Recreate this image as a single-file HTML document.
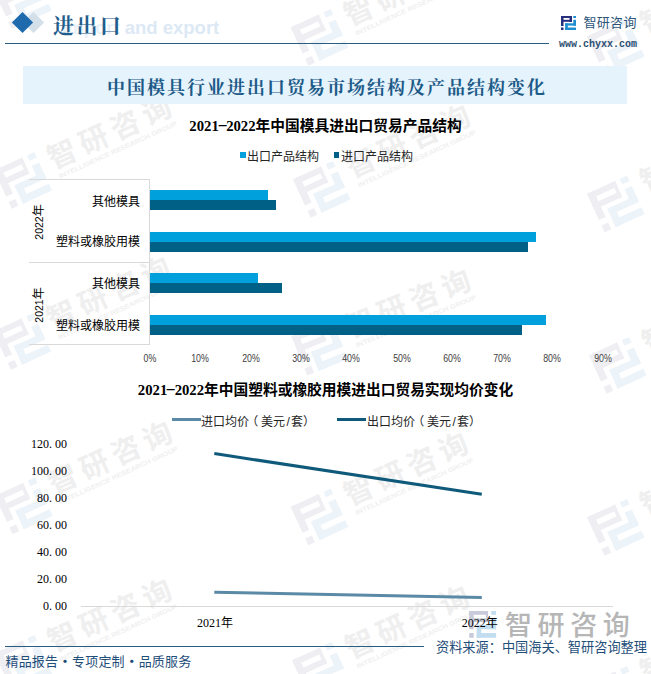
<!DOCTYPE html>
<html><head><meta charset="utf-8">
<style>
*{margin:0;padding:0;box-sizing:border-box}
html,body{width:651px;height:674px;overflow:hidden;background:#fff}
body{position:relative;font-family:"Liberation Sans","Noto Sans CJK SC",sans-serif;color:#000}
.a{position:absolute;white-space:nowrap;line-height:1}
.ct{font-family:"Liberation Serif","Noto Sans CJK SC",sans-serif;font-weight:700;font-size:14.72px;color:#000}
.hy{display:inline-block;width:7.36px;text-align:center;transform:scaleX(2.1);position:relative;top:-1.6px}
.lg{font-family:"Liberation Sans","Noto Sans CJK SC",sans-serif;font-size:12px;color:#262626}
.cl{font-family:"Liberation Sans","Noto Sans CJK SC",sans-serif;font-size:12px;color:#000}
.tk{font-family:"Liberation Sans",sans-serif;font-size:10.5px;color:#404040;transform:scaleX(0.84)}
.yd{font-size:10.5px}
.yl{font-family:"Liberation Serif","Noto Sans CJK SC",serif;font-size:12px;color:#000}
.dot{display:inline-block;width:6px}
.cw{font-weight:700}
.mc{display:inline-block;width:6px;text-align:center}
.sl{display:inline-block;width:6px;text-align:center}
.sep{display:inline-block;width:14px;text-align:center;font-family:'Noto Sans CJK SC',sans-serif;font-weight:700}
</style></head><body>
<svg class="a" style="left:0;top:0" width="651" height="674" font-family="Liberation Sans,Noto Sans CJK SC,sans-serif"><g transform="translate(62,-26) rotate(-24.5)"><g transform="translate(-68.6,-13.4) scale(2.933333333333333,3.0)" ><g fill="#efeff3"><rect x="0" y="0" width="10.5" height="2"/><rect x="9.3" y="0" width="1.2" height="5.8"/><rect x="0" y="3.8" width="10.5" height="2"/><rect x="0" y="0" width="2.5" height="9.6"/><rect x="0" y="11.6" width="2.5" height="2.5"/></g><g fill="#ecf3f9"><rect x="12.3" y="0" width="2.7" height="2"/><rect x="12.3" y="3.8" width="2.7" height="5.8"/><rect x="4.2" y="7.3" width="10.8" height="2.3"/><rect x="4.2" y="7.3" width="2.5" height="6.8"/><rect x="4.2" y="11.6" width="10.8" height="2.5"/></g></g><text x="0.0" y="10.2" text-anchor="middle" font-size="29" font-weight="700" fill="#efefef">智</text><text x="34.6" y="10.2" text-anchor="middle" font-size="29" font-weight="700" fill="#efefef">研</text><text x="69.2" y="10.2" text-anchor="middle" font-size="29" font-weight="700" fill="#efefef">咨</text><text x="103.8" y="10.2" text-anchor="middle" font-size="29" font-weight="700" fill="#efefef">询</text><text x="-12" y="21.5" font-size="6.5" fill="#efefef" textLength="129" lengthAdjust="spacingAndGlyphs" font-weight="bold">INTELLIGENCE RESEARCH GROUP</text></g><g transform="translate(62.2,154.1) rotate(-24.5)"><g transform="translate(-68.6,-13.4) scale(2.933333333333333,3.0)" ><g fill="#efeff3"><rect x="0" y="0" width="10.5" height="2"/><rect x="9.3" y="0" width="1.2" height="5.8"/><rect x="0" y="3.8" width="10.5" height="2"/><rect x="0" y="0" width="2.5" height="9.6"/><rect x="0" y="11.6" width="2.5" height="2.5"/></g><g fill="#ecf3f9"><rect x="12.3" y="0" width="2.7" height="2"/><rect x="12.3" y="3.8" width="2.7" height="5.8"/><rect x="4.2" y="7.3" width="10.8" height="2.3"/><rect x="4.2" y="7.3" width="2.5" height="6.8"/><rect x="4.2" y="11.6" width="10.8" height="2.5"/></g></g><text x="0.0" y="10.2" text-anchor="middle" font-size="29" font-weight="700" fill="#efefef">智</text><text x="34.6" y="10.2" text-anchor="middle" font-size="29" font-weight="700" fill="#efefef">研</text><text x="69.2" y="10.2" text-anchor="middle" font-size="29" font-weight="700" fill="#efefef">咨</text><text x="103.8" y="10.2" text-anchor="middle" font-size="29" font-weight="700" fill="#efefef">询</text><text x="-12" y="21.5" font-size="6.5" fill="#efefef" textLength="129" lengthAdjust="spacingAndGlyphs" font-weight="bold">INTELLIGENCE RESEARCH GROUP</text></g><g transform="translate(61.4,315) rotate(-24.5)"><g transform="translate(-68.6,-13.4) scale(2.933333333333333,3.0)" ><g fill="#efeff3"><rect x="0" y="0" width="10.5" height="2"/><rect x="9.3" y="0" width="1.2" height="5.8"/><rect x="0" y="3.8" width="10.5" height="2"/><rect x="0" y="0" width="2.5" height="9.6"/><rect x="0" y="11.6" width="2.5" height="2.5"/></g><g fill="#ecf3f9"><rect x="12.3" y="0" width="2.7" height="2"/><rect x="12.3" y="3.8" width="2.7" height="5.8"/><rect x="4.2" y="7.3" width="10.8" height="2.3"/><rect x="4.2" y="7.3" width="2.5" height="6.8"/><rect x="4.2" y="11.6" width="10.8" height="2.5"/></g></g><text x="0.0" y="10.2" text-anchor="middle" font-size="29" font-weight="700" fill="#efefef">智</text><text x="34.6" y="10.2" text-anchor="middle" font-size="29" font-weight="700" fill="#efefef">研</text><text x="69.2" y="10.2" text-anchor="middle" font-size="29" font-weight="700" fill="#efefef">咨</text><text x="103.8" y="10.2" text-anchor="middle" font-size="29" font-weight="700" fill="#efefef">询</text><text x="-12" y="21.5" font-size="6.5" fill="#efefef" textLength="129" lengthAdjust="spacingAndGlyphs" font-weight="bold">INTELLIGENCE RESEARCH GROUP</text></g><g transform="translate(63,479.5) rotate(-24.5)"><g transform="translate(-68.6,-13.4) scale(2.933333333333333,3.0)" ><g fill="#efeff3"><rect x="0" y="0" width="10.5" height="2"/><rect x="9.3" y="0" width="1.2" height="5.8"/><rect x="0" y="3.8" width="10.5" height="2"/><rect x="0" y="0" width="2.5" height="9.6"/><rect x="0" y="11.6" width="2.5" height="2.5"/></g><g fill="#ecf3f9"><rect x="12.3" y="0" width="2.7" height="2"/><rect x="12.3" y="3.8" width="2.7" height="5.8"/><rect x="4.2" y="7.3" width="10.8" height="2.3"/><rect x="4.2" y="7.3" width="2.5" height="6.8"/><rect x="4.2" y="11.6" width="10.8" height="2.5"/></g></g><text x="0.0" y="10.2" text-anchor="middle" font-size="29" font-weight="700" fill="#efefef">智</text><text x="34.6" y="10.2" text-anchor="middle" font-size="29" font-weight="700" fill="#efefef">研</text><text x="69.2" y="10.2" text-anchor="middle" font-size="29" font-weight="700" fill="#efefef">咨</text><text x="103.8" y="10.2" text-anchor="middle" font-size="29" font-weight="700" fill="#efefef">询</text><text x="-12" y="21.5" font-size="6.5" fill="#efefef" textLength="129" lengthAdjust="spacingAndGlyphs" font-weight="bold">INTELLIGENCE RESEARCH GROUP</text></g><g transform="translate(62.5,637) rotate(-24.5)"><g transform="translate(-68.6,-13.4) scale(2.933333333333333,3.0)" ><g fill="#efeff3"><rect x="0" y="0" width="10.5" height="2"/><rect x="9.3" y="0" width="1.2" height="5.8"/><rect x="0" y="3.8" width="10.5" height="2"/><rect x="0" y="0" width="2.5" height="9.6"/><rect x="0" y="11.6" width="2.5" height="2.5"/></g><g fill="#ecf3f9"><rect x="12.3" y="0" width="2.7" height="2"/><rect x="12.3" y="3.8" width="2.7" height="5.8"/><rect x="4.2" y="7.3" width="10.8" height="2.3"/><rect x="4.2" y="7.3" width="2.5" height="6.8"/><rect x="4.2" y="11.6" width="10.8" height="2.5"/></g></g><text x="0.0" y="10.2" text-anchor="middle" font-size="29" font-weight="700" fill="#efefef">智</text><text x="34.6" y="10.2" text-anchor="middle" font-size="29" font-weight="700" fill="#efefef">研</text><text x="69.2" y="10.2" text-anchor="middle" font-size="29" font-weight="700" fill="#efefef">咨</text><text x="103.8" y="10.2" text-anchor="middle" font-size="29" font-weight="700" fill="#efefef">询</text><text x="-12" y="21.5" font-size="6.5" fill="#efefef" textLength="129" lengthAdjust="spacingAndGlyphs" font-weight="bold">INTELLIGENCE RESEARCH GROUP</text></g><g transform="translate(358.7,11) rotate(-24.5)"><g transform="translate(-68.6,-13.4) scale(2.933333333333333,3.0)" ><g fill="#efeff3"><rect x="0" y="0" width="10.5" height="2"/><rect x="9.3" y="0" width="1.2" height="5.8"/><rect x="0" y="3.8" width="10.5" height="2"/><rect x="0" y="0" width="2.5" height="9.6"/><rect x="0" y="11.6" width="2.5" height="2.5"/></g><g fill="#ecf3f9"><rect x="12.3" y="0" width="2.7" height="2"/><rect x="12.3" y="3.8" width="2.7" height="5.8"/><rect x="4.2" y="7.3" width="10.8" height="2.3"/><rect x="4.2" y="7.3" width="2.5" height="6.8"/><rect x="4.2" y="11.6" width="10.8" height="2.5"/></g></g><text x="0.0" y="10.2" text-anchor="middle" font-size="29" font-weight="700" fill="#efefef">智</text><text x="34.6" y="10.2" text-anchor="middle" font-size="29" font-weight="700" fill="#efefef">研</text><text x="69.2" y="10.2" text-anchor="middle" font-size="29" font-weight="700" fill="#efefef">咨</text><text x="103.8" y="10.2" text-anchor="middle" font-size="29" font-weight="700" fill="#efefef">询</text><text x="-12" y="21.5" font-size="6.5" fill="#efefef" textLength="129" lengthAdjust="spacingAndGlyphs" font-weight="bold">INTELLIGENCE RESEARCH GROUP</text></g><g transform="translate(361,163) rotate(-24.5)"><g transform="translate(-68.6,-13.4) scale(2.933333333333333,3.0)" ><g fill="#efeff3"><rect x="0" y="0" width="10.5" height="2"/><rect x="9.3" y="0" width="1.2" height="5.8"/><rect x="0" y="3.8" width="10.5" height="2"/><rect x="0" y="0" width="2.5" height="9.6"/><rect x="0" y="11.6" width="2.5" height="2.5"/></g><g fill="#ecf3f9"><rect x="12.3" y="0" width="2.7" height="2"/><rect x="12.3" y="3.8" width="2.7" height="5.8"/><rect x="4.2" y="7.3" width="10.8" height="2.3"/><rect x="4.2" y="7.3" width="2.5" height="6.8"/><rect x="4.2" y="11.6" width="10.8" height="2.5"/></g></g><text x="0.0" y="10.2" text-anchor="middle" font-size="29" font-weight="700" fill="#efefef">智</text><text x="34.6" y="10.2" text-anchor="middle" font-size="29" font-weight="700" fill="#efefef">研</text><text x="69.2" y="10.2" text-anchor="middle" font-size="29" font-weight="700" fill="#efefef">咨</text><text x="103.8" y="10.2" text-anchor="middle" font-size="29" font-weight="700" fill="#efefef">询</text><text x="-12" y="21.5" font-size="6.5" fill="#efefef" textLength="129" lengthAdjust="spacingAndGlyphs" font-weight="bold">INTELLIGENCE RESEARCH GROUP</text></g><g transform="translate(360,323) rotate(-22)"><g transform="translate(-68.6,-13.4) scale(2.933333333333333,3.0)" ><g fill="#efeff3"><rect x="0" y="0" width="10.5" height="2"/><rect x="9.3" y="0" width="1.2" height="5.8"/><rect x="0" y="3.8" width="10.5" height="2"/><rect x="0" y="0" width="2.5" height="9.6"/><rect x="0" y="11.6" width="2.5" height="2.5"/></g><g fill="#ecf3f9"><rect x="12.3" y="0" width="2.7" height="2"/><rect x="12.3" y="3.8" width="2.7" height="5.8"/><rect x="4.2" y="7.3" width="10.8" height="2.3"/><rect x="4.2" y="7.3" width="2.5" height="6.8"/><rect x="4.2" y="11.6" width="10.8" height="2.5"/></g></g><text x="0.0" y="10.2" text-anchor="middle" font-size="29" font-weight="700" fill="#efefef">智</text><text x="34.6" y="10.2" text-anchor="middle" font-size="29" font-weight="700" fill="#efefef">研</text><text x="69.2" y="10.2" text-anchor="middle" font-size="29" font-weight="700" fill="#efefef">咨</text><text x="103.8" y="10.2" text-anchor="middle" font-size="29" font-weight="700" fill="#efefef">询</text><text x="-12" y="21.5" font-size="6.5" fill="#efefef" textLength="129" lengthAdjust="spacingAndGlyphs" font-weight="bold">INTELLIGENCE RESEARCH GROUP</text></g><g transform="translate(358.7,490.6) rotate(-24.5)"><g transform="translate(-68.6,-13.4) scale(2.933333333333333,3.0)" ><g fill="#efeff3"><rect x="0" y="0" width="10.5" height="2"/><rect x="9.3" y="0" width="1.2" height="5.8"/><rect x="0" y="3.8" width="10.5" height="2"/><rect x="0" y="0" width="2.5" height="9.6"/><rect x="0" y="11.6" width="2.5" height="2.5"/></g><g fill="#ecf3f9"><rect x="12.3" y="0" width="2.7" height="2"/><rect x="12.3" y="3.8" width="2.7" height="5.8"/><rect x="4.2" y="7.3" width="10.8" height="2.3"/><rect x="4.2" y="7.3" width="2.5" height="6.8"/><rect x="4.2" y="11.6" width="10.8" height="2.5"/></g></g><text x="0.0" y="10.2" text-anchor="middle" font-size="29" font-weight="700" fill="#efefef">智</text><text x="34.6" y="10.2" text-anchor="middle" font-size="29" font-weight="700" fill="#efefef">研</text><text x="69.2" y="10.2" text-anchor="middle" font-size="29" font-weight="700" fill="#efefef">咨</text><text x="103.8" y="10.2" text-anchor="middle" font-size="29" font-weight="700" fill="#efefef">询</text><text x="-12" y="21.5" font-size="6.5" fill="#efefef" textLength="129" lengthAdjust="spacingAndGlyphs" font-weight="bold">INTELLIGENCE RESEARCH GROUP</text></g><g transform="translate(360,644) rotate(-24.5)"><g transform="translate(-68.6,-13.4) scale(2.933333333333333,3.0)" ><g fill="#efeff3"><rect x="0" y="0" width="10.5" height="2"/><rect x="9.3" y="0" width="1.2" height="5.8"/><rect x="0" y="3.8" width="10.5" height="2"/><rect x="0" y="0" width="2.5" height="9.6"/><rect x="0" y="11.6" width="2.5" height="2.5"/></g><g fill="#ecf3f9"><rect x="12.3" y="0" width="2.7" height="2"/><rect x="12.3" y="3.8" width="2.7" height="5.8"/><rect x="4.2" y="7.3" width="10.8" height="2.3"/><rect x="4.2" y="7.3" width="2.5" height="6.8"/><rect x="4.2" y="11.6" width="10.8" height="2.5"/></g></g><text x="0.0" y="10.2" text-anchor="middle" font-size="29" font-weight="700" fill="#efefef">智</text><text x="34.6" y="10.2" text-anchor="middle" font-size="29" font-weight="700" fill="#efefef">研</text><text x="69.2" y="10.2" text-anchor="middle" font-size="29" font-weight="700" fill="#efefef">咨</text><text x="103.8" y="10.2" text-anchor="middle" font-size="29" font-weight="700" fill="#efefef">询</text><text x="-12" y="21.5" font-size="6.5" fill="#efefef" textLength="129" lengthAdjust="spacingAndGlyphs" font-weight="bold">INTELLIGENCE RESEARCH GROUP</text></g><g transform="translate(655,20) rotate(-24.5)"><g transform="translate(-68.6,-13.4) scale(2.933333333333333,3.0)" ><g fill="#efeff3"><rect x="0" y="0" width="10.5" height="2"/><rect x="9.3" y="0" width="1.2" height="5.8"/><rect x="0" y="3.8" width="10.5" height="2"/><rect x="0" y="0" width="2.5" height="9.6"/><rect x="0" y="11.6" width="2.5" height="2.5"/></g><g fill="#ecf3f9"><rect x="12.3" y="0" width="2.7" height="2"/><rect x="12.3" y="3.8" width="2.7" height="5.8"/><rect x="4.2" y="7.3" width="10.8" height="2.3"/><rect x="4.2" y="7.3" width="2.5" height="6.8"/><rect x="4.2" y="11.6" width="10.8" height="2.5"/></g></g><text x="0.0" y="10.2" text-anchor="middle" font-size="29" font-weight="700" fill="#efefef">智</text><text x="34.6" y="10.2" text-anchor="middle" font-size="29" font-weight="700" fill="#efefef">研</text><text x="69.2" y="10.2" text-anchor="middle" font-size="29" font-weight="700" fill="#efefef">咨</text><text x="103.8" y="10.2" text-anchor="middle" font-size="29" font-weight="700" fill="#efefef">询</text><text x="-12" y="21.5" font-size="6.5" fill="#efefef" textLength="129" lengthAdjust="spacingAndGlyphs" font-weight="bold">INTELLIGENCE RESEARCH GROUP</text></g><g transform="translate(655,177.6) rotate(-24.5)"><g transform="translate(-68.6,-13.4) scale(2.933333333333333,3.0)" ><g fill="#efeff3"><rect x="0" y="0" width="10.5" height="2"/><rect x="9.3" y="0" width="1.2" height="5.8"/><rect x="0" y="3.8" width="10.5" height="2"/><rect x="0" y="0" width="2.5" height="9.6"/><rect x="0" y="11.6" width="2.5" height="2.5"/></g><g fill="#ecf3f9"><rect x="12.3" y="0" width="2.7" height="2"/><rect x="12.3" y="3.8" width="2.7" height="5.8"/><rect x="4.2" y="7.3" width="10.8" height="2.3"/><rect x="4.2" y="7.3" width="2.5" height="6.8"/><rect x="4.2" y="11.6" width="10.8" height="2.5"/></g></g><text x="0.0" y="10.2" text-anchor="middle" font-size="29" font-weight="700" fill="#efefef">智</text><text x="34.6" y="10.2" text-anchor="middle" font-size="29" font-weight="700" fill="#efefef">研</text><text x="69.2" y="10.2" text-anchor="middle" font-size="29" font-weight="700" fill="#efefef">咨</text><text x="103.8" y="10.2" text-anchor="middle" font-size="29" font-weight="700" fill="#efefef">询</text><text x="-12" y="21.5" font-size="6.5" fill="#efefef" textLength="129" lengthAdjust="spacingAndGlyphs" font-weight="bold">INTELLIGENCE RESEARCH GROUP</text></g><g transform="translate(657,339) rotate(-24.5)"><g transform="translate(-68.6,-13.4) scale(2.933333333333333,3.0)" ><g fill="#efeff3"><rect x="0" y="0" width="10.5" height="2"/><rect x="9.3" y="0" width="1.2" height="5.8"/><rect x="0" y="3.8" width="10.5" height="2"/><rect x="0" y="0" width="2.5" height="9.6"/><rect x="0" y="11.6" width="2.5" height="2.5"/></g><g fill="#ecf3f9"><rect x="12.3" y="0" width="2.7" height="2"/><rect x="12.3" y="3.8" width="2.7" height="5.8"/><rect x="4.2" y="7.3" width="10.8" height="2.3"/><rect x="4.2" y="7.3" width="2.5" height="6.8"/><rect x="4.2" y="11.6" width="10.8" height="2.5"/></g></g><text x="0.0" y="10.2" text-anchor="middle" font-size="29" font-weight="700" fill="#efefef">智</text><text x="34.6" y="10.2" text-anchor="middle" font-size="29" font-weight="700" fill="#efefef">研</text><text x="69.2" y="10.2" text-anchor="middle" font-size="29" font-weight="700" fill="#efefef">咨</text><text x="103.8" y="10.2" text-anchor="middle" font-size="29" font-weight="700" fill="#efefef">询</text><text x="-12" y="21.5" font-size="6.5" fill="#efefef" textLength="129" lengthAdjust="spacingAndGlyphs" font-weight="bold">INTELLIGENCE RESEARCH GROUP</text></g><g transform="translate(655,501) rotate(-24.5)"><g transform="translate(-68.6,-13.4) scale(2.933333333333333,3.0)" ><g fill="#efeff3"><rect x="0" y="0" width="10.5" height="2"/><rect x="9.3" y="0" width="1.2" height="5.8"/><rect x="0" y="3.8" width="10.5" height="2"/><rect x="0" y="0" width="2.5" height="9.6"/><rect x="0" y="11.6" width="2.5" height="2.5"/></g><g fill="#ecf3f9"><rect x="12.3" y="0" width="2.7" height="2"/><rect x="12.3" y="3.8" width="2.7" height="5.8"/><rect x="4.2" y="7.3" width="10.8" height="2.3"/><rect x="4.2" y="7.3" width="2.5" height="6.8"/><rect x="4.2" y="11.6" width="10.8" height="2.5"/></g></g><text x="0.0" y="10.2" text-anchor="middle" font-size="29" font-weight="700" fill="#efefef">智</text><text x="34.6" y="10.2" text-anchor="middle" font-size="29" font-weight="700" fill="#efefef">研</text><text x="69.2" y="10.2" text-anchor="middle" font-size="29" font-weight="700" fill="#efefef">咨</text><text x="103.8" y="10.2" text-anchor="middle" font-size="29" font-weight="700" fill="#efefef">询</text><text x="-12" y="21.5" font-size="6.5" fill="#efefef" textLength="129" lengthAdjust="spacingAndGlyphs" font-weight="bold">INTELLIGENCE RESEARCH GROUP</text></g><g transform="translate(655,668) rotate(-24.5)"><g transform="translate(-68.6,-13.4) scale(2.933333333333333,3.0)" ><g fill="#efeff3"><rect x="0" y="0" width="10.5" height="2"/><rect x="9.3" y="0" width="1.2" height="5.8"/><rect x="0" y="3.8" width="10.5" height="2"/><rect x="0" y="0" width="2.5" height="9.6"/><rect x="0" y="11.6" width="2.5" height="2.5"/></g><g fill="#ecf3f9"><rect x="12.3" y="0" width="2.7" height="2"/><rect x="12.3" y="3.8" width="2.7" height="5.8"/><rect x="4.2" y="7.3" width="10.8" height="2.3"/><rect x="4.2" y="7.3" width="2.5" height="6.8"/><rect x="4.2" y="11.6" width="10.8" height="2.5"/></g></g><text x="0.0" y="10.2" text-anchor="middle" font-size="29" font-weight="700" fill="#efefef">智</text><text x="34.6" y="10.2" text-anchor="middle" font-size="29" font-weight="700" fill="#efefef">研</text><text x="69.2" y="10.2" text-anchor="middle" font-size="29" font-weight="700" fill="#efefef">咨</text><text x="103.8" y="10.2" text-anchor="middle" font-size="29" font-weight="700" fill="#efefef">询</text><text x="-12" y="21.5" font-size="6.5" fill="#efefef" textLength="129" lengthAdjust="spacingAndGlyphs" font-weight="bold">INTELLIGENCE RESEARCH GROUP</text></g></svg>
<div class="a" style="left:26px;top:15px;width:15px;height:15px;background:#d3dfe9;transform:rotate(45deg)"></div>
<div class="a" style="left:15px;top:15px;width:15px;height:15px;background:#1e6aad;transform:rotate(45deg)"></div>
<div class="a" style="left:62px;top:16.5px;font:bold 18.5px 'Liberation Sans',sans-serif;color:#dce9f5"><span style="color:#e8f0f8">Import</span> and export</div>
<div class="a" style="left:53px;top:9px;font:700 21px 'Liberation Serif','Noto Serif CJK SC',serif;color:#1f5d8c;letter-spacing:2.4px">进出口</div>
<div class="a" style="left:4.5px;top:42.7px;width:544.3px;height:1.6px;background:#285c80"></div>
<svg class="a" style="left:561px;top:16px" width="16" height="15" viewBox="0 0 16 15">
<g fill="#28307e"><rect x="0" y="0" width="11" height="2"/><rect x="8.5" y="0" width="2.5" height="6"/><rect x="0" y="3.8" width="11" height="2"/><rect x="0" y="0" width="2.5" height="10"/><rect x="0" y="11.5" width="2.5" height="2.5"/></g>
<g fill="#1f8ed0"><rect x="12.3" y="0" width="2.7" height="2"/><rect x="12.3" y="3.8" width="2.7" height="6"/><rect x="4.2" y="7.3" width="10.8" height="2.3"/><rect x="4.2" y="7.3" width="2.6" height="6.7"/><rect x="4.2" y="11.5" width="10.8" height="2.5"/></g>
</svg>
<div class="a" style="left:583.5px;top:15.5px;font-size:13px;color:#2c5579;letter-spacing:0.3px">智研咨询</div>
<div class="a" style="left:559px;top:38.5px;font:bold 10px 'Liberation Mono',monospace;color:#2a4e70">www.chyxx.com</div>
<div class="a" style="left:23px;top:66px;width:604px;height:38px;background:#e5f3fc"></div>
<div class="a" style="left:25px;top:72.5px;width:604px;text-align:center;font:700 18px 'Liberation Serif','Noto Serif CJK SC',serif;color:#1c5a88;letter-spacing:2px">中国模具行业进出口贸易市场结构及产品结构变化</div>
<svg class="a" style="left:0;top:0" width="651" height="674" font-family="Liberation Sans,Noto Sans CJK SC,sans-serif"><g transform="translate(469.2,611) scale(1.7933333333333332,1.9000000000000001)" ><g fill="#c9cbdb"><rect x="0" y="0" width="10.5" height="2"/><rect x="9.3" y="0" width="1.2" height="5.8"/><rect x="0" y="3.8" width="10.5" height="2"/><rect x="0" y="0" width="2.5" height="9.6"/><rect x="0" y="11.6" width="2.5" height="2.5"/></g><g fill="#c2dcf0"><rect x="12.3" y="0" width="2.7" height="2"/><rect x="12.3" y="3.8" width="2.7" height="5.8"/><rect x="4.2" y="7.3" width="10.8" height="2.3"/><rect x="4.2" y="7.3" width="2.5" height="6.8"/><rect x="4.2" y="11.6" width="10.8" height="2.5"/></g></g><text x="518.5" y="634.5" text-anchor="middle" font-size="27" font-weight="500" fill="#b6b6b6">智</text><text x="551.1" y="634.5" text-anchor="middle" font-size="27" font-weight="500" fill="#b6b6b6">研</text><text x="583.7" y="634.5" text-anchor="middle" font-size="27" font-weight="500" fill="#b6b6b6">咨</text><text x="616.3" y="634.5" text-anchor="middle" font-size="27" font-weight="500" fill="#b6b6b6">询</text></svg>
<div class="a ct" style="left:0;width:651px;text-align:center;top:119px">2021<span class="hy">-</span>2022<span class="cw">年中国模具进出口贸易产品结构</span></div>
<div class="a" style="left:240.3px;top:152px;width:5.5px;height:5.6px;background:#00a0dc"></div>
<div class="a lg" style="left:247px;top:150.5px">出口产品结构</div>
<div class="a" style="left:333.6px;top:152px;width:5.5px;height:5.6px;background:#006085"></div>
<div class="a lg" style="left:341px;top:150.5px">进口产品结构</div>
<div class="a" style="left:29px;top:179px;width:121px;height:1px;background:#d9d9d9"></div>
<div class="a" style="left:29px;top:262px;width:121px;height:1px;background:#d9d9d9"></div>
<div class="a" style="left:29px;top:344px;width:121px;height:1px;background:#d9d9d9"></div>
<div class="a" style="left:149px;top:179px;width:1px;height:166px;background:#d9d9d9"></div>
<div class="a" style="left:150px;top:190.3px;width:117.7px;height:9.8px;background:#00a0dc"></div>
<div class="a" style="left:150px;top:200.1px;width:125.8px;height:9.8px;background:#006085"></div>
<div class="a" style="left:150px;top:232.3px;width:385.8px;height:9.8px;background:#00a0dc"></div>
<div class="a" style="left:150px;top:242.1px;width:377.8px;height:9.8px;background:#006085"></div>
<div class="a" style="left:150px;top:273.2px;width:108.1px;height:9.8px;background:#00a0dc"></div>
<div class="a" style="left:150px;top:283.0px;width:132.3px;height:9.8px;background:#006085"></div>
<div class="a" style="left:150px;top:315.0px;width:395.9px;height:9.8px;background:#00a0dc"></div>
<div class="a" style="left:150px;top:324.8px;width:372.2px;height:9.8px;background:#006085"></div>
<div class="a cl" style="right:511px;top:195.5px">其他模具</div>
<div class="a cl" style="right:511px;top:236.1px">塑料或橡胶用模</div>
<div class="a cl" style="right:511px;top:277.5px">其他模具</div>
<div class="a cl" style="right:511px;top:319.5px">塑料或橡胶用模</div>
<div class="a cl yr" style="left:8.5px;top:216px;width:60px;text-align:center;transform:rotate(-90deg)"><span class="yd">2022</span>年</div>
<div class="a cl yr" style="left:8.5px;top:298.5px;width:60px;text-align:center;transform:rotate(-90deg)"><span class="yd">2021</span>年</div>
<div class="a tk" style="left:130.0px;width:40px;text-align:center;top:353px">0%</div>
<div class="a tk" style="left:180.3px;width:40px;text-align:center;top:353px">10%</div>
<div class="a tk" style="left:230.6px;width:40px;text-align:center;top:353px">20%</div>
<div class="a tk" style="left:280.9px;width:40px;text-align:center;top:353px">30%</div>
<div class="a tk" style="left:331.2px;width:40px;text-align:center;top:353px">40%</div>
<div class="a tk" style="left:381.5px;width:40px;text-align:center;top:353px">50%</div>
<div class="a tk" style="left:431.8px;width:40px;text-align:center;top:353px">60%</div>
<div class="a tk" style="left:482.1px;width:40px;text-align:center;top:353px">70%</div>
<div class="a tk" style="left:532.4px;width:40px;text-align:center;top:353px">80%</div>
<div class="a tk" style="left:582.7px;width:40px;text-align:center;top:353px">90%</div>
<div class="a ct" style="left:0;width:651px;text-align:center;top:383px">2021<span class="hy">-</span>2022<span class="cw">年中国塑料或橡胶用模进出口贸易实现均价变化</span></div>
<div class="a" style="left:172px;top:418px;width:29px;height:3px;background:#5b8aa6"></div>
<div class="a lg" style="left:201px;top:415.5px">进口均价<span style="position:relative;left:-2.7px">（</span>美元<span class="sl">/</span>套）</div>
<div class="a" style="left:337px;top:418px;width:29px;height:3px;background:#0f5a7a"></div>
<div class="a lg" style="left:367px;top:415.5px">出口均价<span style="position:relative;left:-2.7px">（</span>美元<span class="sl">/</span>套）</div>
<div class="a yl" style="right:584px;top:438.2px">120<span class="dot">.</span>00</div>
<div class="a yl" style="right:584px;top:465.1px">100<span class="dot">.</span>00</div>
<div class="a yl" style="right:584px;top:492.0px">80<span class="dot">.</span>00</div>
<div class="a yl" style="right:584px;top:518.9px">60<span class="dot">.</span>00</div>
<div class="a yl" style="right:584px;top:545.8px">40<span class="dot">.</span>00</div>
<div class="a yl" style="right:584px;top:572.7px">20<span class="dot">.</span>00</div>
<div class="a yl" style="right:584px;top:599.6px">0<span class="dot">.</span>00</div>
<div class="a" style="left:80.5px;top:605.5px;width:532px;height:1px;background:#d9d9d9"></div>
<div class="a yl" style="left:195px;width:40px;text-align:center;top:616.5px">2021年</div>
<div class="a yl" style="left:459.7px;width:40px;text-align:center;top:616.5px">2022年</div>
<svg class="a" style="left:0;top:0" width="651" height="674"><line x1="214.3" y1="453.6" x2="481.8" y2="494.2" stroke="#0f5a7a" stroke-width="3"/><line x1="214.3" y1="592.3" x2="481.8" y2="597.5" stroke="#5b8aa6" stroke-width="3"/></svg>
<div class="a" style="left:4.5px;top:645.6px;width:419.5px;height:1.5px;background:#285c80"></div>
<div class="a" style="left:5.5px;top:654px;font-size:13px;color:#1f4e79;letter-spacing:0.15px">精品报告<span class="sep">·</span>专项定制<span class="sep">·</span>品质服务</div>
<div class="a" style="left:436px;top:641px;font-size:13.2px;color:#1f4e79">资料来源：中国海关、智研咨询整理</div>
</body></html>
